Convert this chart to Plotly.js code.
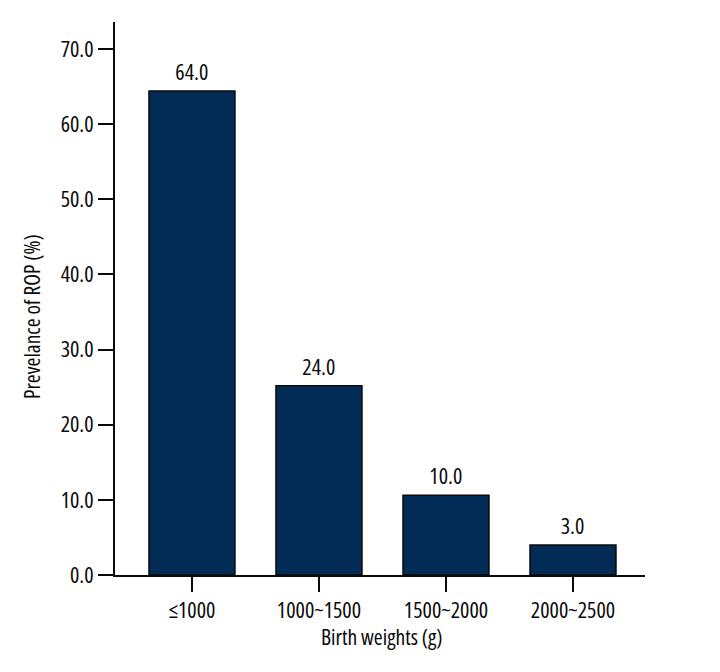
<!DOCTYPE html>
<html>
<head>
<meta charset="utf-8">
<script src="https://cdn.plot.ly/plotly-3.0.1.min.js"></script>
<style>
html,body{margin:0;padding:0;background:#fff;}
#chart{width:720px;height:672px;}
#chart text{font-stretch:condensed !important;}
</style>
</head>
<body>
<div id="chart"></div>
<script>
const categories = ["≤1000", "1000~1500", "1500~2000", "2000~2500"];
const prevalence = [64.4, 25.2, 10.6, 4.0];
const barLabels = ["64.0", "24.0", "10.0", "3.0"];
const yTickValues = [0, 10, 20, 30, 40, 50, 60, 70];
const xTitle = "Birth weights (g)";
const yTitle = "Prevelance of ROP (%)";

const FONT = "'Open Sans', 'Liberation Sans', sans-serif";
const INK = '#0a0a0a';

const trace = {
  type: 'bar',
  x: categories,
  y: prevalence,
  marker: {color: '#022c56', line: {color: INK, width: 1.5}},
  hoverinfo: 'none'
};

const valueAnnotations = categories.map((c, i) => ({
  x: c, y: prevalence[i], xref: 'x', yref: 'y',
  text: barLabels[i], showarrow: false,
  xanchor: 'center', yanchor: 'bottom', yshift: 3,
  font: {family: FONT, size: 22, color: INK}
}));

const titleAnnotations = [
  {xref: 'paper', yref: 'paper', x: 0.502, y: -0.111, xanchor: 'center', yanchor: 'middle',
   borderpad: 0,
   text: xTitle, showarrow: false, font: {family: FONT, size: 21.5, color: INK}},
  {xref: 'paper', yref: 'paper', x: -0.157, y: 0.467, xanchor: 'center', yanchor: 'middle',
   textangle: -90, text: yTitle, showarrow: false, font: {family: FONT, size: 21.5, color: INK}}
];

const layout = {
  width: 720, height: 672,
  margin: {l: 115, r: 75, t: 22, b: 97},
  paper_bgcolor: '#fff', plot_bgcolor: '#fff',
  showlegend: false,
  bargap: 0.323,
  font: {family: FONT, size: 22, color: INK},
  xaxis: {
    type: 'category',
    range: [-0.606, 3.567],
    showline: true, linecolor: INK, linewidth: 2,
    ticks: 'outside', ticklen: 15, tickwidth: 2, tickcolor: INK,
    showgrid: false, zeroline: false,
    tickfont: {family: FONT, size: 22, color: INK}
  },
  yaxis: {
    range: [0, 73.6],
    tickvals: yTickValues,
    tickformat: '.1f',
    showline: true, linecolor: INK, linewidth: 2,
    ticks: 'outside', ticklen: 15, tickwidth: 2, tickcolor: INK,
    showgrid: false, zeroline: false,
    tickfont: {family: FONT, size: 22, color: INK}
  },
  annotations: valueAnnotations.concat(titleAnnotations)
};

Plotly.newPlot('chart', [trace], layout, {staticPlot: true, displayModeBar: false});
</script>
</body>
</html>
